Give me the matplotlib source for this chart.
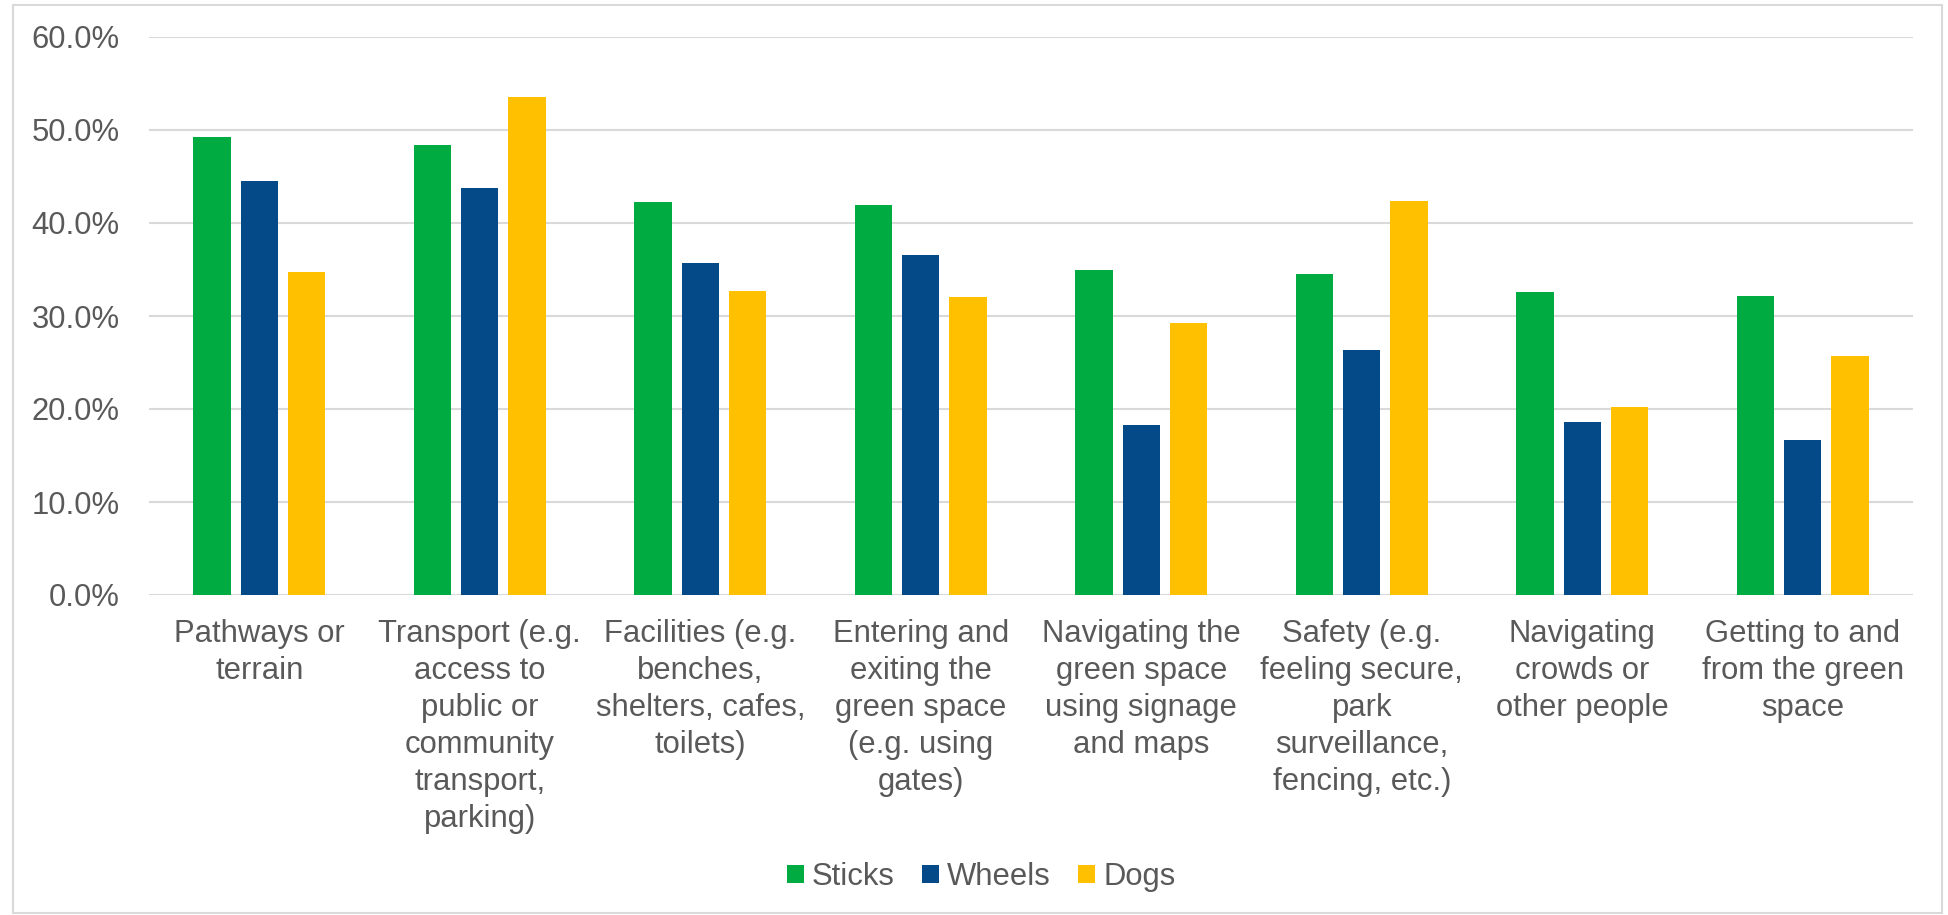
import numpy as np
import matplotlib.pyplot as plt
from matplotlib.patches import Rectangle
from matplotlib.ticker import PercentFormatter

plt.rcParams['font.family'] = ['Liberation Sans', 'DejaVu Sans']

categories = [
    "Pathways or\nterrain",
    "Transport (e.g.\naccess to\npublic or\ncommunity\ntransport,\nparking)",
    "Facilities (e.g.\nbenches,\nshelters, cafes,\ntoilets)",
    "Entering and\nexiting the\ngreen space\n(e.g. using\ngates)",
    "Navigating the\ngreen space\nusing signage\nand maps",
    "Safety (e.g.\nfeeling secure,\npark\nsurveillance,\nfencing, etc.)",
    "Navigating\ncrowds or\nother people",
    "Getting to and\nfrom the green\nspace",
]
sticks = [49.3, 48.4, 42.3, 41.9, 34.9, 34.5, 32.6, 32.1]
wheels = [44.5, 43.8, 35.7, 36.6, 18.3, 26.3, 18.6, 16.7]
dogs = [34.7, 53.5, 32.7, 32.0, 29.2, 42.4, 20.2, 25.7]

series_names = ["Sticks", "Wheels", "Dogs"]
colors = ['#00ac42', '#054a88', '#ffc000']
text_col = '#595959'
grid_col = '#d9d9d9'
fs = 22.3

fig = plt.figure(figsize=(19.48, 9.15), dpi=100)
ax = fig.add_axes([149 / 1948, 1 - 595 / 915, (1913 - 149) / 1948, (595 - 37) / 915])

x = np.arange(len(categories))
w = 0.17
step = 0.215
for i, (vals, name) in enumerate(zip([sticks, wheels, dogs], series_names)):
    ax.bar(x + (i - 1) * step, vals, width=w, color=colors[i], label=name, zorder=3)

ax.set_xlim(-0.5, len(categories) - 0.5)
ax.set_ylim(0, 60)
ax.set_yticks(np.arange(0, 61, 10))
ax.yaxis.set_major_formatter(PercentFormatter(decimals=1))
ax.grid(axis='y', color=grid_col, lw=1.5, zorder=0)
for s in ax.spines.values():
    s.set_visible(False)
ax.tick_params(axis='both', length=0, labelsize=fs, labelcolor=text_col)
ax.tick_params(axis='y', pad=21)
ax.tick_params(axis='x', pad=17)
ax.set_xticks(x)
ax.set_xticklabels(categories, linespacing=1.31, va='top')

leg = ax.legend(loc='center', bbox_to_anchor=(981 / 1948, 1 - 877 / 915),
                bbox_transform=fig.transFigure, ncol=3, frameon=False,
                fontsize=fs, handlelength=0.55, handleheight=0.55,
                handletextpad=0.25, columnspacing=0.9)
for t in leg.get_texts():
    t.set_color(text_col)

# light frame round the whole chart
fig.patches.append(Rectangle((13 / 1948, 2 / 915), 1929 / 1948, 908 / 915,
                             transform=fig.transFigure, fill=False,
                             edgecolor=grid_col, lw=1.5))

fig.savefig('out.png', dpi=100)
